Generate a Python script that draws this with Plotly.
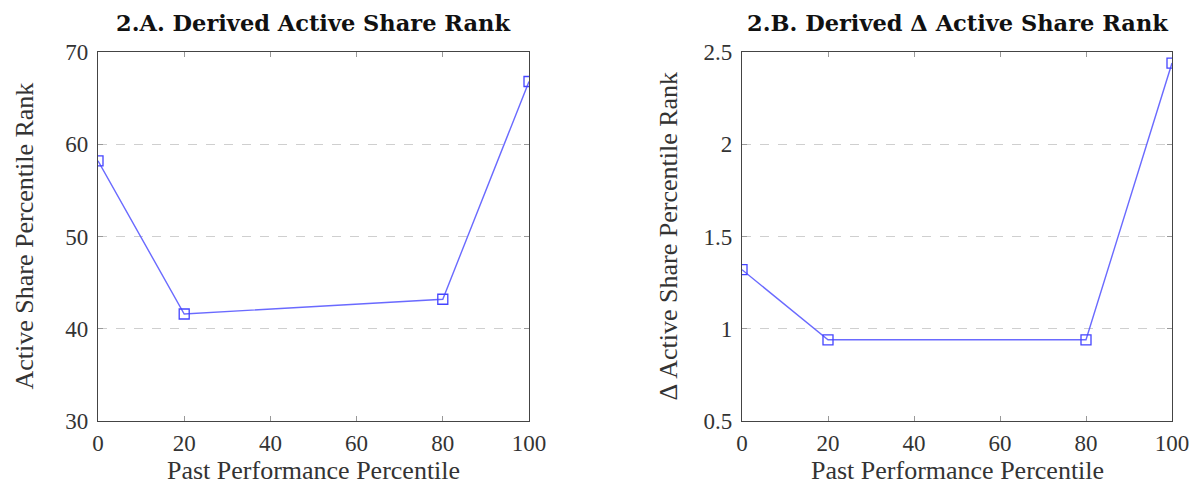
import plotly.graph_objects as go

x_vals = [0, 20, 80, 100]
rank_a = [58.2, 41.6, 43.2, 66.8]
rank_b = [1.32, 0.94, 0.94, 2.44]
x_ticks = [0, 20, 40, 60, 80, 100]
ya_ticks = [30, 40, 50, 60, 70]
yb_ticks = [0.5, 1, 1.5, 2, 2.5]
yb_labels = ["0.5", "1", "1.5", "2", "2.5"]
title_a = "<b>2.A. Derived Active Share Rank</b>"
title_b = "<b>2.B. Derived Δ Active Share Rank</b>"
xlabel = "Past Performance Percentile"
ylabel_a = "Active Share Percentile Rank"
ylabel_b = "Δ Active Share Percentile Rank"

FONT = "Liberation Serif"
TFONT = "DejaVu Serif"
W, H = 1197, 488
blue_line = "rgba(80,80,255,0.85)"
blue_mark = "#4444ff"

fig = go.Figure()
for xa, ya, vals in (("x", "y", rank_a), ("x2", "y2", rank_b)):
    fig.add_trace(go.Scatter(x=x_vals, y=vals, mode="lines+markers", xaxis=xa, yaxis=ya,
                             line=dict(color=blue_line, width=1.4),
                             marker=dict(symbol="square-open", size=10, color=blue_mark,
                                         line=dict(width=1.3, color=blue_mark))))

ax_common = dict(showline=True, linecolor="#444", linewidth=1.3, mirror="ticks",
                 ticks="inside", ticklen=5, tickcolor="#999", tickwidth=1,
                 zeroline=False, automargin=False,
                 tickfont=dict(family=FONT, size=23, color="#333"))
xdom_a = [98 / W, 529 / W]
xdom_b = [742 / W, 1172 / W]
ydom = [(H - 421) / H, (H - 52) / H]

def px_x(p):
    return p / W

def px_y(p):
    return 1 - p / H

fig.update_layout(
    width=W, height=H, margin=dict(l=0, r=0, t=0, b=0), autosize=False,
    paper_bgcolor="white", plot_bgcolor="white", showlegend=False,
    font=dict(family=FONT, color="#333"),
    xaxis=dict(domain=xdom_a, range=[0, 100], tickvals=x_ticks, showgrid=False, anchor="y",
               ticklabelstandoff=1, **ax_common),
    yaxis=dict(domain=ydom, range=[30, 70], tickvals=ya_ticks, anchor="x",
               showgrid=True, gridcolor="#cfcfcf", griddash="dash", gridwidth=1.2,
               ticklabelstandoff=4, **ax_common),
    xaxis2=dict(domain=xdom_b, range=[0, 100], tickvals=x_ticks, showgrid=False, anchor="y2",
                ticklabelstandoff=1, **ax_common),
    yaxis2=dict(domain=ydom, range=[0.5, 2.5], tickvals=yb_ticks, ticktext=yb_labels, anchor="x2",
                showgrid=True, gridcolor="#cfcfcf", griddash="dash", gridwidth=1.2,
                ticklabelstandoff=4, **ax_common),
    annotations=[
        dict(text=title_a, x=(xdom_a[0] + xdom_a[1]) / 2, y=px_y(23), xref="paper", yref="paper",
             xanchor="center", yanchor="middle", showarrow=False,
             font=dict(family=TFONT, size=22.5, color="#111")),
        dict(text=title_b, x=(xdom_b[0] + xdom_b[1]) / 2, y=px_y(23), xref="paper", yref="paper",
             xanchor="center", yanchor="middle", showarrow=False,
             font=dict(family=TFONT, size=22.5, color="#111")),
        dict(text=xlabel, x=(xdom_a[0] + xdom_a[1]) / 2, y=px_y(470), xref="paper", yref="paper",
             xanchor="center", yanchor="middle", showarrow=False,
             font=dict(family=FONT, size=26, color="#333")),
        dict(text=xlabel, x=(xdom_b[0] + xdom_b[1]) / 2, y=px_y(470), xref="paper", yref="paper",
             xanchor="center", yanchor="middle", showarrow=False,
             font=dict(family=FONT, size=26, color="#333")),
        dict(text=ylabel_a, x=px_x(24), y=(ydom[0] + ydom[1]) / 2, xref="paper", yref="paper",
             xanchor="center", yanchor="middle", showarrow=False, textangle=-90,
             font=dict(family=FONT, size=26, color="#333")),
        dict(text=ylabel_b, x=px_x(668), y=(ydom[0] + ydom[1]) / 2, xref="paper", yref="paper",
             xanchor="center", yanchor="middle", showarrow=False, textangle=-90,
             font=dict(family=FONT, size=26, color="#333")),
    ],
)

fig.write_html("out.html")
